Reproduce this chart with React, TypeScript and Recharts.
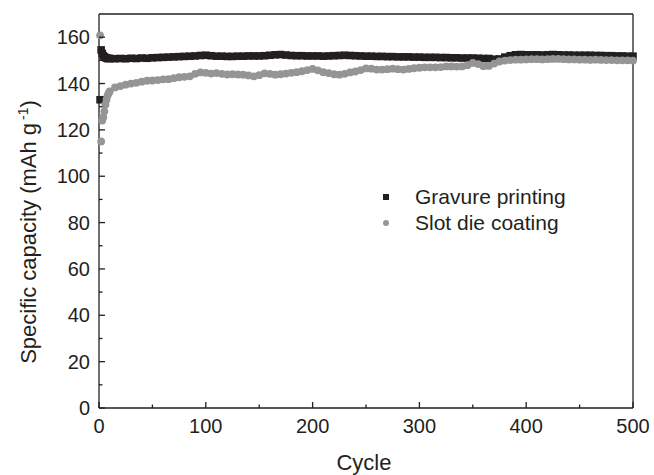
import React from 'react';
import {ScatterChart, Scatter, XAxis, YAxis, Legend} from 'recharts';

// cycle number of each sample (first ten cycles one by one, then every 5th)
const cycles = [
  1, 2, 3, 4, 5, 6, 7, 8, 9, 10,
  15, 20, 25, 30, 35, 40, 45, 50, 55, 60, 65, 70, 75, 80, 85, 90, 95, 100,
  105, 110, 115, 120, 125, 130, 135, 140, 145, 150, 155, 160, 165, 170, 175, 180, 185, 190, 195, 200,
  205, 210, 215, 220, 225, 230, 235, 240, 245, 250, 255, 260, 265, 270, 275, 280, 285, 290, 295, 300,
  305, 310, 315, 320, 325, 330, 335, 340, 345, 350, 355, 360, 365, 370, 375, 380, 385, 390, 395, 400,
  405, 410, 415, 420, 425, 430, 435, 440, 445, 450, 455, 460, 465, 470, 475, 480, 485, 490, 495, 500,
];

// specific capacity, mAh/g
const gravure = [
  133, 154.5, 153, 152, 151.5, 151.2, 151, 150.8, 150.8, 150.8,
  150.7, 150.8, 150.7, 150.9, 150.8, 151.0, 150.9, 151.1, 151.2, 151.3, 151.4, 151.5, 151.6, 151.7, 151.8, 151.9, 152.1, 152.2,
  152.0, 151.8, 151.8, 151.7, 151.7, 151.8, 151.8, 151.9, 151.9, 151.9, 152.0, 152.2, 152.4, 152.5, 152.3, 152.1, 152.0, 152.0, 151.9, 151.9,
  151.9, 151.8, 151.9, 152.0, 152.1, 152.2, 152.1, 152.0, 151.9, 151.8, 151.8, 151.7, 151.7, 151.6, 151.6, 151.5, 151.5, 151.5, 151.4, 151.4,
  151.3, 151.3, 151.3, 151.2, 151.2, 151.1, 151.1, 151.0, 151.0, 151.0, 150.9, 150.8, 150.8, 150.5, 150.6, 151.4, 152.0, 152.4, 152.5, 152.4,
  152.4, 152.4, 152.3, 152.4, 152.5, 152.4, 152.3, 152.3, 152.2, 152.2, 152.2, 152.2, 152.1, 152.1, 152.0, 152.0, 151.9, 151.9, 151.8, 151.8,
];

const slotDie = [
  160.8, 115, 124, 125.5, 128, 131, 133, 134.8, 135.8, 136.6,
  138.3, 138.9, 139.5, 140.0, 140.3, 140.8, 141.2, 141.3, 141.5, 141.8, 141.9, 142.3, 142.7, 142.9, 143.1, 144.2, 144.8, 144.6,
  144.3, 144.5, 144.2, 143.9, 144.0, 143.9, 143.8, 143.5, 143.1, 143.6, 144.4, 144.2, 143.8, 144.0, 144.3, 144.6, 144.9, 145.3, 145.8, 146.3,
  145.7, 144.9, 144.5, 144.0, 143.8, 144.2, 144.8, 145.2, 145.8, 146.5, 146.4, 146.0, 146.0, 146.2, 146.4, 146.2, 146.0, 146.3, 146.6, 146.8,
  147.0, 147.0, 147.0, 147.1, 147.4, 147.4, 147.3, 147.4, 147.9, 148.9, 148.4, 147.5, 147.6, 148.6, 149.5, 149.9, 150.1, 150.3, 150.3, 150.4,
  150.5, 150.5, 150.4, 150.5, 150.6, 150.6, 150.5, 150.4, 150.4, 150.3, 150.3, 150.2, 150.3, 150.2, 150.1, 150.1, 150.0, 150.0, 150.0, 149.9,
];

const xTicks = [0, 50, 100, 150, 200, 250, 300, 350, 400, 450, 500];
const yTicks = [0, 10, 20, 30, 40, 50, 60, 70, 80, 90, 100, 110, 120, 130, 140, 150, 160];

const FONT = '"Liberation Sans", Arial, Helvetica, sans-serif';
const INK = '#231f20';
const BLACK = '#231f20';
const GREY = '#959595';

const series = [
  {name: 'Gravure printing', color: BLACK, square: true, values: gravure},
  {name: 'Slot die coating', color: GREY, square: false, values: slotDie},
];

const X_GAP = 11;
const Y_GAP = 9;

// ticks point inward; major ones are longer and carry labels
const BottomTick = ({x, y, payload}: any) => {
  const major = payload.value % 100 === 0;
  const axisY = y - X_GAP;
  return (
    <g>
      <line x1={x} x2={x} y1={axisY} y2={axisY - (major ? 6 : 3.5)} stroke={INK} strokeWidth={1.3} />
      {major && (
        <text x={x} y={y} dy="0.71em" textAnchor="middle" fontFamily={FONT} fontSize={20} fill={INK}>
          {payload.value}
        </text>
      )}
    </g>
  );
};

const TopTick = ({x, y, payload}: any) => {
  const major = payload.value % 100 === 0;
  return <line x1={x} x2={x} y1={y} y2={y + (major ? 6 : 3.5)} stroke={INK} strokeWidth={1.3} />;
};

const LeftTick = ({x, y, payload}: any) => {
  const major = payload.value % 20 === 0;
  const axisX = x + Y_GAP;
  return (
    <g>
      <line x1={axisX} x2={axisX + (major ? 6 : 3.5)} y1={y} y2={y} stroke={INK} strokeWidth={1.3} />
      {major && (
        <text x={x} y={y} dy="0.355em" textAnchor="end" fontFamily={FONT} fontSize={20} fill={INK}>
          {payload.value}
        </text>
      )}
    </g>
  );
};

const RightTick = ({x, y, payload}: any) => {
  const major = payload.value % 20 === 0;
  return <line x1={x} x2={x - (major ? 6 : 3.5)} y1={y} y2={y} stroke={INK} strokeWidth={1.3} />;
};

const XTitle = ({viewBox}: any) => (
  <text x={viewBox.x + viewBox.width / 2 - 2} y={viewBox.y + 62} textAnchor="middle" fontFamily={FONT} fontSize={22} fill={INK}>
    Cycle
  </text>
);

const YTitle = ({viewBox}: any) => {
  const cx = 36;
  const cy = viewBox.y + viewBox.height / 2 + 21;
  return (
    <text x={cx} y={cy} transform={`rotate(-90 ${cx} ${cy})`} textAnchor="middle" fontFamily={FONT} fontSize={22} fill={INK}>
      Specific capacity (mAh g
      <tspan dx={3} dy={-8} fontSize={14}>-1</tspan>
      <tspan dy={8}>)</tspan>
    </text>
  );
};

const LegendBox = () => (
  <div style={{fontFamily: FONT, fontSize: 21, color: INK}}>
    {series.map((s) => (
      <div key={s.name} style={{display: 'flex', alignItems: 'center', height: 26}}>
        <svg width={16} height={16}>
          {s.square ? <rect x={5} y={5} width={6} height={6} fill={s.color} /> : <circle cx={8} cy={8} r={3} fill={s.color} />}
        </svg>
        <span style={{marginLeft: 21.5, lineHeight: '26px', whiteSpace: 'nowrap'}}>{s.name}</span>
      </div>
    ))}
  </div>
);

const square = (color: string) => (p: any) => <rect x={p.cx - 3.8} y={p.cy - 3.8} width={7.6} height={7.6} fill={color} />;
const dot = (color: string) => (p: any) => <circle cx={p.cx} cy={p.cy} r={3.9} fill={color} />;

export default function App() {
  return (
    <div style={{position: 'absolute', left: 0, top: 0, width: 654, height: 475, background: '#fff'}}>
      <ScatterChart width={654} height={475} margin={{top: 13, right: 20, bottom: 0, left: 39}}>
        <XAxis
          xAxisId={0}
          type="number"
          dataKey="x"
          domain={[0, 500]}
          ticks={xTicks}
          interval={0}
          height={67}
          tickSize={0}
          tickMargin={X_GAP}
          tickLine={false}
          tick={<BottomTick />}
          axisLine={{stroke: INK, strokeWidth: 1.3}}
          label={<XTitle />}
        />
        <XAxis
          xAxisId="top"
          orientation="top"
          type="number"
          domain={[0, 500]}
          ticks={xTicks}
          interval={0}
          height={1}
          tickSize={0}
          tickMargin={0}
          tickLine={false}
          tick={<TopTick />}
          axisLine={{stroke: INK, strokeWidth: 1.3}}
        />
        <YAxis
          yAxisId={0}
          type="number"
          dataKey="y"
          domain={[0, 170]}
          ticks={yTicks}
          interval={0}
          width={60}
          tickSize={0}
          tickMargin={Y_GAP}
          tickLine={false}
          tick={<LeftTick />}
          axisLine={{stroke: INK, strokeWidth: 1.3}}
          label={<YTitle />}
        />
        <YAxis
          yAxisId="right"
          orientation="right"
          type="number"
          domain={[0, 170]}
          ticks={yTicks}
          interval={0}
          width={1}
          tickSize={0}
          tickMargin={0}
          tickLine={false}
          tick={<RightTick />}
          axisLine={{stroke: INK, strokeWidth: 1.3}}
        />
        <Legend
          layout="vertical"
          verticalAlign="middle"
          align="center"
          content={<LegendBox />}
          wrapperStyle={{left: 377.5, top: 183.5, width: 'auto'}}
        />
        <Scatter
          name={series[0].name}
          data={cycles.map((c, i) => ({x: c, y: gravure[i]}))}
          fill={BLACK}
          shape={square(BLACK)}
          isAnimationActive={false}
        />
        <Scatter
          name={series[1].name}
          data={cycles.map((c, i) => ({x: c, y: slotDie[i]}))}
          fill={GREY}
          shape={dot(GREY)}
          isAnimationActive={false}
        />
      </ScatterChart>
    </div>
  );
}
